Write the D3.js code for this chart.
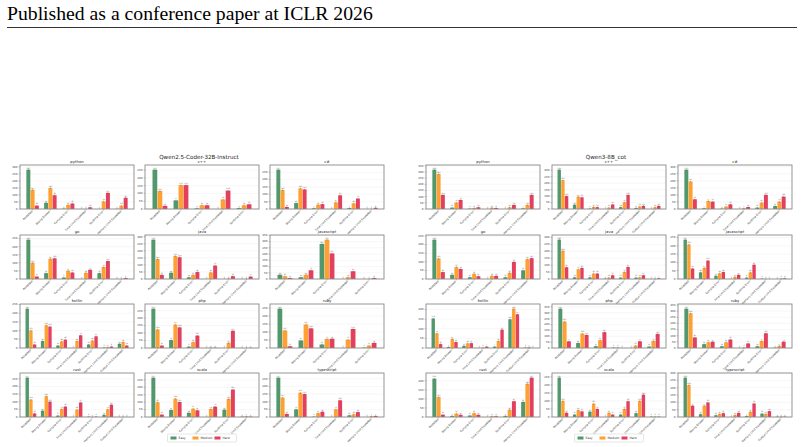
<!DOCTYPE html>
<html>
<head>
<meta charset="utf-8">
<script src="https://cdn.jsdelivr.net/npm/d3@7"></script>
<style>
  body { margin: 0; background: #fff; }
  svg { display: block; }
</style>
</head>
<body>
<svg id="chart" width="804" height="447"></svg>
<script>
const difficulties = ["Easy", "Medium", "Hard"];
const statuses = ["Accepted", "Wrong Answer", "Compile Error", "Time Limit Exceeded",
                  "Runtime Error", "Memory Limit Exceeded", "Output Limit Exceeded"];

// Qwen2.5-Coder-32B-Instruct
const leftLangs = ["python", "c++", "c#", "go", "java", "javascript",
                   "kotlin", "php", "ruby", "rust", "scala", "typescript"];
const leftEasy = [
  [280, 44, 2, 0, 0, 1], [252, 55, 4, 0, 6], [267, 40, 5, 0, 7, 0],
  [243, 36, 9, 0, 36, 0], [278, 44, 12, 0, 0, 0], [34, 14, 281, 0, 0],
  [226, 40, 14, 0, 20, 2, 24], [263, 53, 9, 0, 0, 0], [246, 47, 22, 0, 2],
  [257, 41, 9, 0, 2, 14, 0], [265, 47, 28, 0, 49, 2], [257, 50, 2, 0, 11, 0]
];
const leftMedium = [
  [137, 149, 29, 0, 54, 24], [116, 153, 24, 61, 24], [129, 140, 29, 45, 38, 0],
  [100, 125, 51, 38, 74, 0], [141, 163, 29, 46, 2, 0], [22, 34, 315, 14, 0],
  [101, 131, 38, 40, 42, 4, 34], [124, 157, 39, 2, 35, 0], [110, 147, 56, 52, 15],
  [114, 136, 52, 48, 0, 50, 0], [99, 124, 56, 54, 122, 5], [127, 159, 25, 50, 18, 5]
];
const leftHard = [
  [24, 98, 39, 12, 115, 80], [20, 153, 24, 118, 30], [14, 133, 33, 93, 71, 8],
  [15, 128, 40, 57, 111, 6], [29, 154, 49, 95, 20, 17], [8, 70, 205, 62, 8],
  [20, 123, 48, 73, 67, 8, 14], [16, 138, 83, 2, 115, 1], [11, 123, 58, 119, 32],
  [23, 100, 68, 95, 2, 80, 0], [16, 101, 45, 70, 185, 2], [20, 150, 34, 109, 32, 7]
];

// Qwen3-8B_cot
const rightLangs = leftLangs;
const rightEasy = [
  [318, 11, 3, 0, 0, 5], [304, 33, 3, 0, 14, 8, 0], [279, 5, 2, 0, 10, 21],
  [228, 24, 10, 0, 10, 50], [284, 12, 12, 2, 10, 10, 0], [237, 40, 19, 0, 8, 2, 0],
  [153, 5, 11, 0, 7, 149, 2], [335, 42, 15, 3, 0, 12], [320, 31, 14, 0, 14, 2],
  [212, 6, 8, 0, 6, 83], [245, 15, 33, 0, 15, 24, 2], [268, 19, 12, 0, 7, 23, 2]
];
const rightMedium = [
  [283, 52, 8, 10, 14, 33], [223, 95, 16, 11, 52, 19, 14], [195, 57, 17, 5, 45, 52],
  [119, 69, 30, 18, 36, 115], [204, 70, 39, 10, 50, 12, 0], [208, 67, 34, 13, 40, 0, 2],
  [76, 47, 24, 2, 36, 204, 5], [225, 123, 66, 3, 21, 60], [283, 46, 46, 3, 57, 17],
  [110, 19, 21, 4, 40, 183], [100, 43, 83, 26, 50, 100, 2], [218, 77, 21, 14, 35, 21, 2]
];
const rightHard = [
  [114, 73, 14, 8, 33, 114], [100, 90, 14, 35, 109, 24, 24], [69, 52, 33, 14, 100, 88],
  [40, 58, 16, 18, 99, 121], [85, 80, 39, 27, 87, 27, 5], [63, 111, 42, 25, 86, 0, 4],
  [20, 31, 25, 7, 95, 175, 0], [57, 111, 135, 0, 57, 120], [86, 51, 69, 37, 120, 51],
  [13, 12, 12, 4, 87, 217], [26, 35, 50, 15, 98, 139, 2], [77, 99, 26, 28, 92, 40, 2]
];

const colors = { Easy: "#52986c", Medium: "#ffa033", Hard: "#e3405e" };

const svg = d3.select("#chart");

// page header
svg.append("text")
  .attr("x", 7).attr("y", 20)
  .attr("font-family", "Liberation Serif, Times New Roman, serif")
  .attr("font-size", 19.7)
  .attr("fill", "#000")
  .text("Published as a conference paper at ICLR 2026");
svg.append("line")
  .attr("x1", 7).attr("x2", 797).attr("y1", 27.5).attr("y2", 27.5)
  .attr("stroke", "#000").attr("stroke-width", 0.8);

const rowTops = [165, 235, 304, 373];
const plotW = 114, plotH = 44;
const font = "DejaVu Sans, sans-serif";

function drawPanel(title, colLefts, langs, easy, medium, hard) {
  const g = svg.append("g");
  const midX = colLefts[1] + plotW / 2 - 3;
  g.append("text")
    .attr("x", midX).attr("y", 158.5)
    .attr("text-anchor", "middle")
    .attr("font-family", font).attr("font-size", 5.6)
    .attr("fill", "#222")
    .text(title);

  langs.forEach((lang, i) => {
    const row = Math.floor(i / 3), col = i % 3;
    const ax = g.append("g")
      .attr("transform", `translate(${colLefts[col]},${rowTops[row]})`);
    const cats = statuses.slice(0, easy[i].length);
    const rows = cats.map((c, j) => ({ cat: c, Easy: easy[i][j], Medium: medium[i][j], Hard: hard[i][j] }));
    const maxVal = d3.max(rows, r => Math.max(r.Easy, r.Medium, r.Hard));

    const x = d3.scaleBand().domain(cats).range([0, plotW]).paddingInner(0.28).paddingOuter(0.35);
    const xs = d3.scaleBand().domain(difficulties).range([0, x.bandwidth()]);
    const y = d3.scaleLinear().domain([0, maxVal * 1.12]).range([plotH, 0]);
    const ticks = d3.range(0, maxVal * 1.12, 50);

    // grid
    ax.selectAll(".grid").data(ticks).join("line")
      .attr("x1", 0).attr("x2", plotW)
      .attr("y1", d => y(d)).attr("y2", d => y(d))
      .attr("stroke", "#ececec").attr("stroke-width", 0.4);

    // bars
    const grp = ax.selectAll(".grp").data(rows).join("g")
      .attr("transform", d => `translate(${x(d.cat)},0)`);
    grp.selectAll("rect").data(d => difficulties.map(k => ({ k, v: d[k] }))).join("rect")
      .attr("x", d => xs(d.k) + 0.15)
      .attr("width", xs.bandwidth() - 0.3)
      .attr("y", d => y(d.v))
      .attr("height", d => plotH - y(d.v))
      .attr("fill", d => colors[d.k]);
    // small error caps
    grp.selectAll("line").data(d => difficulties.map(k => ({ k, v: d[k] }))).join("line")
      .attr("x1", d => xs(d.k) + xs.bandwidth() / 2)
      .attr("x2", d => xs(d.k) + xs.bandwidth() / 2)
      .attr("y1", d => y(d.v) - 0.8).attr("y2", d => Math.min(plotH, y(d.v) + 0.8))
      .attr("stroke", "#444").attr("stroke-width", 0.35);
    grp.selectAll("text").data(d => difficulties.map(k => ({ k, v: d[k] }))).join("text")
      .attr("x", d => xs(d.k) + xs.bandwidth() / 2)
      .attr("y", d => y(d.v) - 1.2)
      .attr("text-anchor", "middle")
      .attr("font-family", font).attr("font-size", 1.8)
      .attr("fill", "#555")
      .text(d => d.v);

    // frame
    ax.append("rect")
      .attr("width", plotW).attr("height", plotH)
      .attr("fill", "none").attr("stroke", "#8a8a8a").attr("stroke-width", 0.9);

    // y ticks
    ax.selectAll(".yt").data(ticks).join("text")
      .attr("x", -2.5).attr("y", d => y(d) + 0.9)
      .attr("text-anchor", "end")
      .attr("font-family", font).attr("font-size", 2.7)
      .attr("fill", "#333")
      .text(d => d);
    ax.selectAll(".ytk").data(ticks).join("line")
      .attr("x1", -1.5).attr("x2", 0)
      .attr("y1", d => y(d)).attr("y2", d => y(d))
      .attr("stroke", "#555").attr("stroke-width", 0.3);

    // x labels
    ax.selectAll(".xl").data(cats).join("text")
      .attr("transform", d => `translate(${x(d) + x.bandwidth() / 2},${plotH + 2.5}) rotate(-45)`)
      .attr("text-anchor", "end")
      .attr("font-family", font).attr("font-size", 2.7)
      .attr("fill", "#333")
      .text(d => d);
    ax.selectAll(".xtk").data(cats).join("line")
      .attr("x1", d => x(d) + x.bandwidth() / 2).attr("x2", d => x(d) + x.bandwidth() / 2)
      .attr("y1", plotH).attr("y2", plotH + 1.5)
      .attr("stroke", "#555").attr("stroke-width", 0.3);

    // subplot title
    ax.append("text")
      .attr("x", plotW / 2).attr("y", -1.8)
      .attr("text-anchor", "middle")
      .attr("font-family", font).attr("font-size", 3.8)
      .attr("fill", "#222")
      .text(lang);
  });

  // legend
  const lw = 69, lh = 8;
  const lg = g.append("g").attr("transform", `translate(${midX - lw / 2 + 3},${434})`);
  lg.append("rect").attr("width", lw).attr("height", lh).attr("rx", 0.8)
    .attr("fill", "#fff").attr("stroke", "#ccc").attr("stroke-width", 0.5);
  const lx = d3.scalePoint().domain(difficulties).range([3, 47]);
  difficulties.forEach(k => {
    lg.append("rect").attr("x", lx(k)).attr("y", 2.5).attr("width", 6).attr("height", 3)
      .attr("fill", colors[k]);
    lg.append("text").attr("x", lx(k) + 8).attr("y", 5.3)
      .attr("font-family", font).attr("font-size", 3)
      .attr("fill", "#333").text(k);
  });
}

drawPanel("Qwen2.5-Coder-32B-Instruct", [20, 145, 270], leftLangs, leftEasy, leftMedium, leftHard);
drawPanel("Qwen3-8B_cot", [426, 552, 678], rightLangs, rightEasy, rightMedium, rightHard);
</script>
</body>
</html>
